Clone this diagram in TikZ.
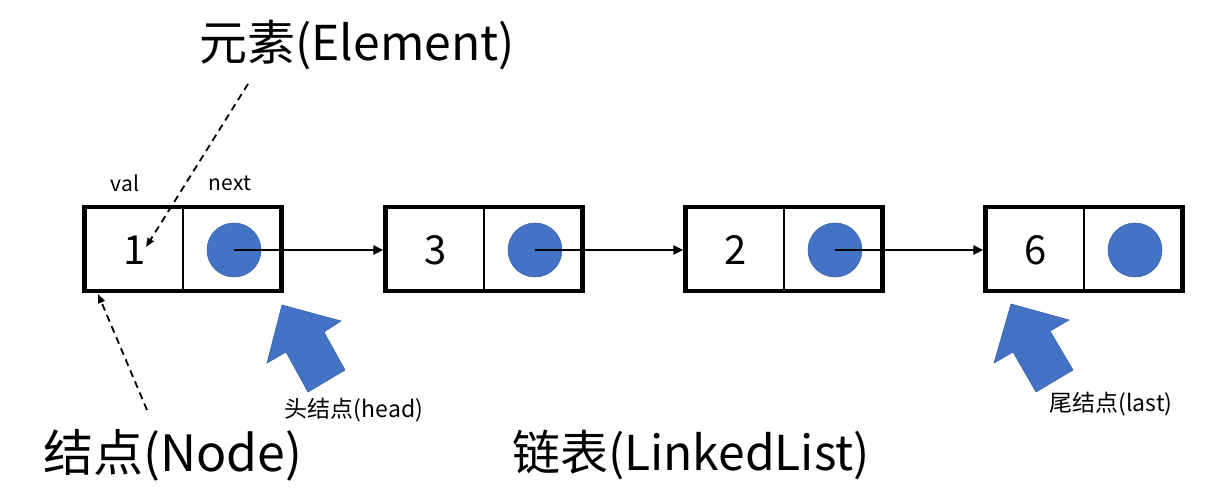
\documentclass[tikz,border=0pt]{standalone}
\usepackage{fontspec}
\setmainfont{Noto Sans CJK SC}
\usetikzlibrary{arrows.meta}
\definecolor{ptblue}{HTML}{4472C4}
\definecolor{ptedge}{HTML}{3A62AA}
\tikzset{
  box/.style={draw, line width=4.2pt, minimum width=197pt, minimum height=84pt, inner sep=0pt},
  dot/.style={circle, fill=ptblue, draw=ptedge, line width=0.6pt, minimum size=54pt, inner sep=0pt},
  num/.style={font=\fontsize{40}{44}\selectfont, inner sep=0pt},
  small/.style={font=\fontsize{21}{24}\selectfont, inner sep=0pt},
  label/.style={font=\fontsize{23}{26}\selectfont, inner sep=0pt},
  big/.style={font=\fontsize{48}{54}\selectfont, inner sep=0pt},
  link/.style={line width=2.8pt, -{Triangle[length=10pt,width=9pt]}},
  note/.style={line width=1.8pt, dash pattern=on 7pt off 5pt, -{Triangle[length=9pt,width=7pt]}},
  fatarrow/.style={fill=ptblue, draw=ptedge, line width=0.6pt}
}
\begin{document}
\begin{tikzpicture}[x=1pt,y=-1pt]
\useasboundingbox (0,0) rectangle (1220,502);
% boxes
\foreach \i/\x/\v in {1/183/1,2/484/3,3/784/2,4/1084/6}{
  \node[box] (b\i) at (\x,249) {};
  \draw[line width=1.8pt] (b\i.north) -- (b\i.south);
  \node[num] (v\i) at (\x-48,250) {\v};
  \node[dot] (c\i) at (\x+51,250) {};
}
% links
\draw[link] (c1.center) -- (b2.west |- c1.center);
\draw[link] (c2.center) -- (b3.west |- c2.center);
\draw[link] (c3.center) -- (b4.west |- c3.center);
% labels
\node[small] (val) at (125,183) {val};
\node[small] (nxt) at (230,183) {next};
\node[big] (elem) at (357,45) {元素(Element)};
\node[big, font=\fontsize{50}{56}\selectfont] (node) at (173,455) {结点(Node)};
\node[big] (ll) at (691,455) {链表(LinkedList)};
\node[label] (head) at (354,410) {头结点(head)};
\node[label] (last) at (1111,404) {尾结点(last)};
% dashed pointers
\coordinate (es) at (248,84);
\coordinate (et) at (146,247);
\coordinate (ns) at (147,410);
\coordinate (nt) at (98,294);
\draw[note] (es) -- (et);
\draw[note] (ns) -- (nt);
% big arrows
\draw[fatarrow] (282,305) -- (341,321) -- (324,332) -- (345,370) -- (308,392) -- (286,352) -- (267,363) -- cycle;
\draw[fatarrow] (1011,304) -- (1069,320) -- (1050,331) -- (1073,370) -- (1036,392) -- (1013,352) -- (994,363) -- cycle;
\end{tikzpicture}
\end{document}
